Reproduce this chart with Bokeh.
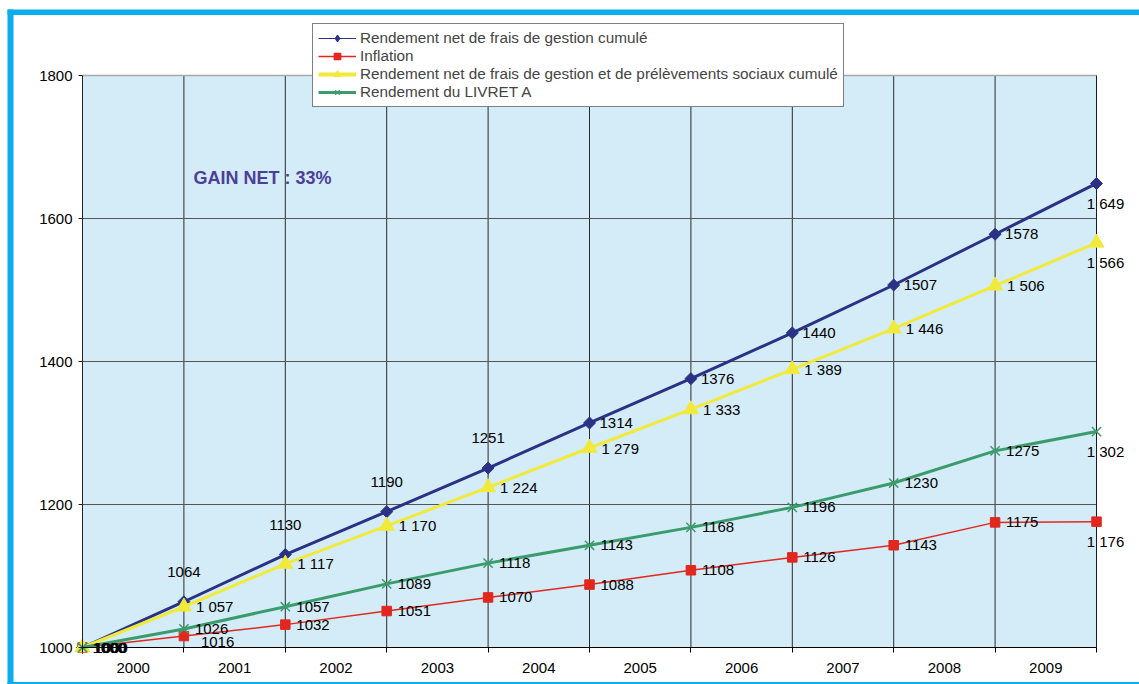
import math
from bokeh.plotting import figure
from bokeh.models import (Range1d, FixedTicker, ColumnDataSource, LabelSet, Label,
                          Legend, LegendItem)
from bokeh.core.properties import value
from bokeh.embed import file_html
from bokeh.resources import INLINE

# ---------------- data ----------------
years = ["2000", "2001", "2002", "2003", "2004", "2005", "2006", "2007", "2008", "2009"]
points = list(range(11))  # observation points (start + end of each year)

net_frais = [1000, 1064, 1130, 1190, 1251, 1314, 1376, 1440, 1507, 1578, 1649]
inflation = [1000, 1016, 1032, 1051, 1070, 1088, 1108, 1126, 1143, 1175, 1176]
net_prelev = [1000, 1057, 1117, 1170, 1224, 1279, 1333, 1389, 1446, 1506, 1566]
livret_a = [1000, 1026, 1057, 1089, 1118, 1143, 1168, 1196, 1230, 1275, 1302]

series_names = [
    "Rendement net de frais de gestion cumulé",
    "Inflation",
    "Rendement net de frais de gestion et de prélèvements sociaux cumulé",
    "Rendement du LIVRET A",
]
y_ticks = [1000, 1200, 1400, 1600, 1800]
gain_text = "GAIN NET : 33%"

# ---------------- style / geometry ----------------
FONT = "Liberation Sans"
FS = "15px"
NAVY = "#2B3286"
RED = "#E2271F"
YELLOW = "#F2EA3A"
GREEN = "#3A9C6C"
BG = "#D4ECF8"
FRAME_BLUE = "#0AAEEC"

W, H = 1139, 684                    # canvas
PL, PR, PT, PB = 82, 1096, 75, 647  # plot area in canvas pixels
xmin, xmax = points[0], points[-1]
ymin, ymax = y_ticks[0], y_ticks[-1]
sx = (PR - PL) / (xmax - xmin)
sy = (PB - PT) / (ymax - ymin)
x_start, x_end = xmin - PL / sx, xmax + (W - PR) / sx
y_start, y_end = ymin - (H - PB) / sy, ymax + PT / sy


def px_x(c):
    return x_start + c / sx


def px_y(r):
    return y_end - r / sy


p = figure(width=W, height=H, title=None,
           x_range=Range1d(x_start, x_end), y_range=Range1d(y_start, y_end),
           output_backend="svg", toolbar_location=None,
           min_border=0, min_border_left=0, min_border_right=0,
           min_border_top=0, min_border_bottom=0,
           background_fill_color="white", border_fill_color="white")
p.outline_line_color = None
p.xgrid.visible = False
p.ygrid.visible = False

# outer blue frame (decoration)
p.quad(left=[px_x(7), px_x(7), px_x(7)], right=[px_x(13), px_x(W + 5), px_x(W + 5)],
       bottom=[px_y(H + 5), px_y(14.5), px_y(H + 5)], top=[px_y(9), px_y(9), px_y(681.5)],
       fill_color=FRAME_BLUE, line_color=None)

# plot area background
p.quad(left=[xmin], right=[xmax], bottom=[ymin], top=[ymax], fill_color=BG, line_color=None)

# grid lines
p.segment(x0=points[1:-1], y0=[ymin] * (len(points) - 2), x1=points[1:-1], y1=[ymax] * (len(points) - 2),
          line_color="#2a2a2a", line_width=1)
p.segment(x0=[xmin] * 3, y0=y_ticks[1:-1], x1=[xmax] * 3, y1=y_ticks[1:-1],
          line_color="#555555", line_width=1)
p.segment(x0=[xmin], y0=[ymax], x1=[xmax], y1=[ymax], line_color="#a8a8a8", line_width=1.5)
p.segment(x0=[xmax], y0=[ymin], x1=[xmax], y1=[ymax], line_color="#1a1a1a", line_width=1)

# axes
p.yaxis.fixed_location = xmin
p.yaxis.bounds = (ymin, ymax)
p.yaxis.ticker = FixedTicker(ticks=y_ticks)
p.yaxis.major_tick_out = 4
p.yaxis.major_tick_in = 0
p.yaxis.minor_tick_out = 0
p.yaxis.minor_tick_in = 0
p.yaxis.axis_line_color = "#222222"
p.yaxis.major_tick_line_color = "#222222"
p.yaxis.major_label_text_font = FONT
p.yaxis.major_label_text_font_size = FS
p.yaxis.major_label_text_color = "black"
p.yaxis.major_label_standoff = 6

mids = [i + 0.5 for i in range(len(years))]
p.xaxis.fixed_location = ymin
p.xaxis.bounds = (xmin, xmax)
p.xaxis.ticker = FixedTicker(ticks=mids, minor_ticks=points)
p.xaxis.major_label_overrides = {m: y for m, y in zip(mids, years)}
p.xaxis.major_tick_out = 0
p.xaxis.major_tick_in = 0
p.xaxis.minor_tick_out = 5
p.xaxis.minor_tick_in = 0
p.xaxis.minor_tick_line_color = "black"
p.xaxis.axis_line_color = "black"
p.xaxis.major_label_text_font = FONT
p.xaxis.major_label_text_font_size = FS
p.xaxis.major_label_text_color = "black"
p.xaxis.major_label_standoff = 10

# ---------------- series ----------------
specs = [
    dict(vals=net_frais, color=NAVY, lw=3, marker="square", size=8.5, angle=math.pi / 4,
         leg_lw=1.2, leg_marker="diamond", leg_size=12,
         right=10, place=["right"] + ["above"] * 4 + ["right"] * 5 + ["below"], spaced=False),
    dict(vals=inflation, color=RED, lw=1.5, marker="square", size=9.5, angle=0,
         leg_lw=1.5, leg_marker="square", leg_size=9,
         right=11, place=["right", "belowright"] + ["right"] * 8 + ["below"], spaced=False),
    dict(vals=net_prelev, color=YELLOW, lw=3, marker="triangle", size=15, angle=0,
         leg_lw=4, leg_marker="triangle", leg_size=15,
         right=12, place=["right"] * 10 + ["below"], spaced=True),
    dict(vals=livret_a, color=GREEN, lw=3, marker="x", size=13, angle=0,
         leg_lw=3, leg_marker="x", leg_size=14,
         right=11, place=["right"] * 10 + ["below"], spaced=False),
]


def fmt(v, spaced):
    s = str(v)
    return s[0] + " " + s[1:] if spaced else s


items = []
lab = {"left": dict(x=[], y=[], t=[], xo=[], yo=[]),
       "center": dict(x=[], y=[], t=[], xo=[], yo=[])}
for name, sp in zip(series_names, specs):
    src = ColumnDataSource(dict(x=points, y=sp["vals"]))
    p.line("x", "y", source=src, line_color=sp["color"], line_width=sp["lw"])
    if sp["marker"] == "x":
        p.scatter("x", "y", source=src, marker="x", size=sp["size"],
                  line_color=sp["color"], line_width=1.5)
    else:
        p.scatter("x", "y", source=src, marker=sp["marker"], size=sp["size"],
                  angle=sp["angle"], fill_color=sp["color"], line_color=sp["color"])
    # legend-only renderers (a single NaN row: nothing is drawn in the plot)
    key = ColumnDataSource(dict(x=[float("nan")], y=[float("nan")]))
    l1 = p.line("x", "y", source=key, line_color=sp["color"], line_width=sp["leg_lw"])
    l2 = p.scatter("x", "y", source=key, marker=sp["leg_marker"], size=sp["leg_size"],
                   fill_color=sp["color"], line_color=sp["color"], line_width=1.3)
    items.append(LegendItem(label=name, renderers=[l1, l2]))
    n = len(sp["vals"])
    for i, (xv, yv, pl) in enumerate(zip(points, sp["vals"], sp["place"])):
        spaced = sp["spaced"] or i == n - 1
        txt = fmt(yv, spaced and i > 0)
        if pl == "right":
            g, xo, yo = "left", sp["right"], 0
        elif pl == "above":
            g, xo, yo = "center", 0, 30
        elif pl == "below":
            g, xo, yo = "center", 9, -20
        else:  # belowright
            g, xo, yo = "left", 17, -6
        d = lab[g]
        d["x"].append(xv); d["y"].append(yv); d["t"].append(txt)
        d["xo"].append(xo); d["yo"].append(yo)

for g, d in lab.items():
    ls = LabelSet(x="x", y="y", text="t", x_offset="xo", y_offset="yo",
                  source=ColumnDataSource(d), text_align=g, text_baseline="middle",
                  text_font=value(FONT), text_font_size=value(FS), text_color="black")
    p.add_layout(ls)

# annotation text
p.add_layout(Label(x=1.095, y=1656, text=gain_text, text_font=FONT, text_font_size="18px",
                   text_font_style="bold", text_color="#4C3F98", text_baseline="middle"))

legend = Legend(items=items, location=(312, 577), orientation="vertical",
                border_line_color="black", border_line_width=1,
                background_fill_color="white", background_fill_alpha=1,
                label_text_font=FONT, label_text_font_size="15.3px",
                glyph_width=38, glyph_height=16, label_height=16,
                label_standoff=4, spacing=0, padding=5, margin=0)
p.add_layout(legend, "center")

open("out.html", "w").write(file_html(p, INLINE))
